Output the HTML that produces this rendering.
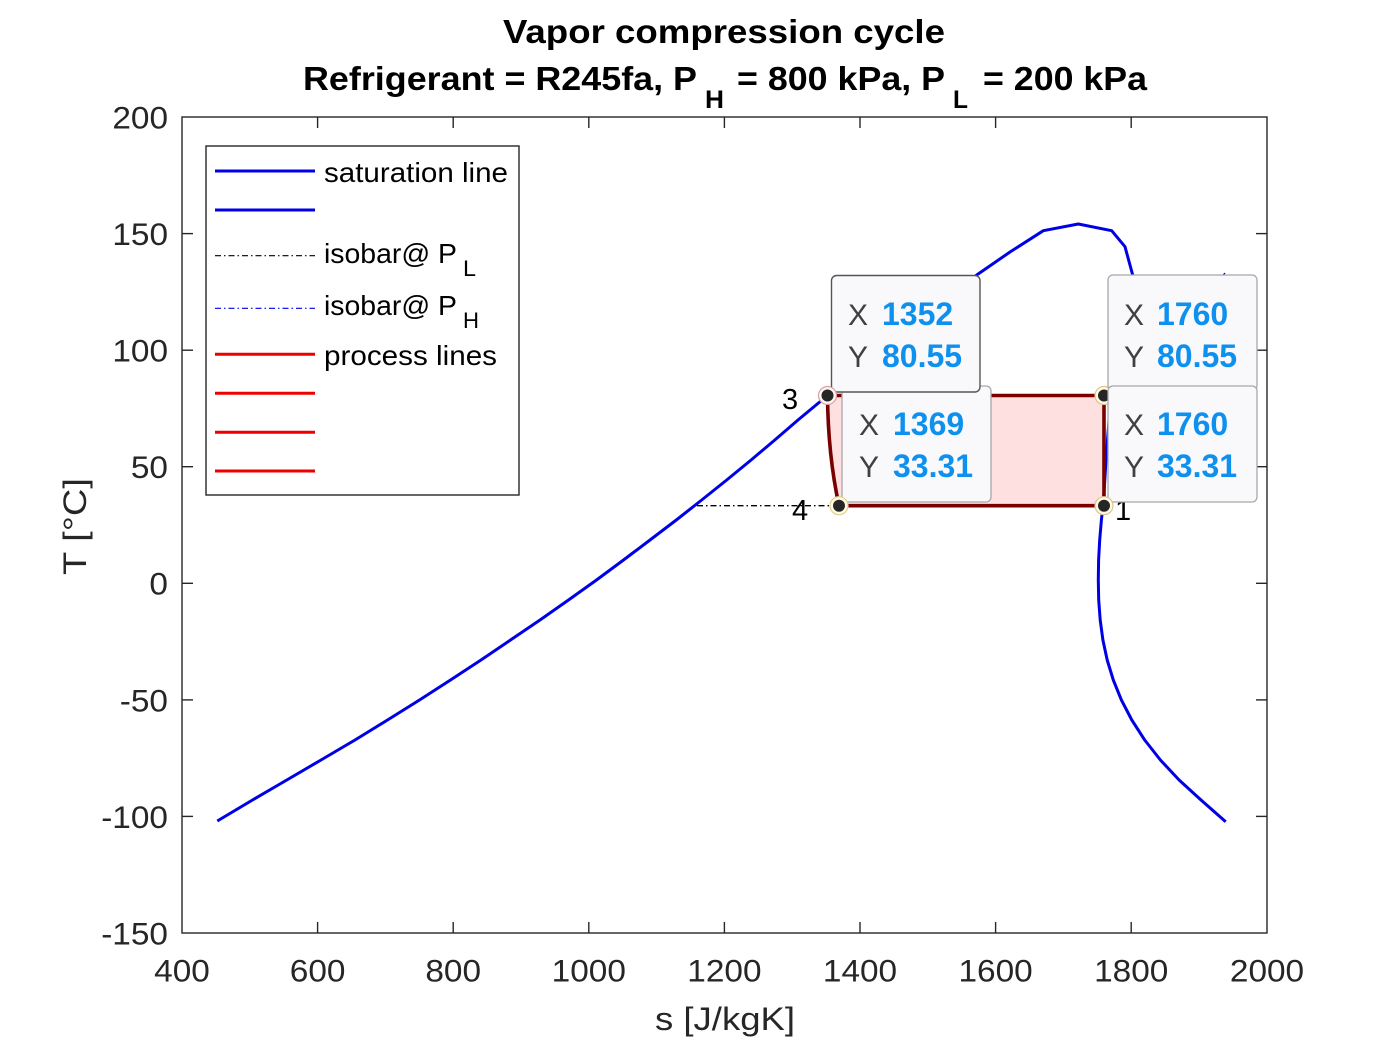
<!DOCTYPE html>
<html>
<head>
<meta charset="utf-8">
<style>
  html,body{margin:0;padding:0;background:#fff;}
  svg{display:block;}
  text{font-family:"Liberation Sans",Arial,sans-serif;}
</style>
</head>
<body>
<svg width="1400" height="1050" viewBox="0 0 1400 1050" xmlns="http://www.w3.org/2000/svg">
  <rect x="0" y="0" width="1400" height="1050" fill="#ffffff"/>

  <!-- Title -->
  <text x="503" y="43" font-size="33" font-weight="bold" fill="#000" textLength="442" lengthAdjust="spacingAndGlyphs">Vapor compression cycle</text>
  <text x="303" y="90" font-size="33" font-weight="bold" fill="#000" textLength="394" lengthAdjust="spacingAndGlyphs">Refrigerant = R245fa, P</text>
  <text x="705" y="108" font-size="25" font-weight="bold" fill="#000" textLength="19" lengthAdjust="spacingAndGlyphs">H</text>
  <text x="737" y="90" font-size="33" font-weight="bold" fill="#000" textLength="208" lengthAdjust="spacingAndGlyphs">= 800 kPa, P</text>
  <text x="953" y="108" font-size="25" font-weight="bold" fill="#000" textLength="15" lengthAdjust="spacingAndGlyphs">L</text>
  <text x="983" y="90" font-size="33" font-weight="bold" fill="#000" textLength="164" lengthAdjust="spacingAndGlyphs">= 200 kPa</text>

  <!-- Axes box -->
  <rect x="182" y="117" width="1085" height="816" fill="#fff" stroke="#262626" stroke-width="1.4"/>

  <!-- ticks -->
  <g stroke="#262626" stroke-width="1.4">
    <line x1="317.6" y1="933" x2="317.6" y2="922"/><line x1="317.6" y1="117" x2="317.6" y2="128"/>
    <line x1="453.2" y1="933" x2="453.2" y2="922"/><line x1="453.2" y1="117" x2="453.2" y2="128"/>
    <line x1="588.8" y1="933" x2="588.8" y2="922"/><line x1="588.8" y1="117" x2="588.8" y2="128"/>
    <line x1="724.4" y1="933" x2="724.4" y2="922"/><line x1="724.4" y1="117" x2="724.4" y2="128"/>
    <line x1="860" y1="933" x2="860" y2="922"/><line x1="860" y1="117" x2="860" y2="128"/>
    <line x1="995.6" y1="933" x2="995.6" y2="922"/><line x1="995.6" y1="117" x2="995.6" y2="128"/>
    <line x1="1131.2" y1="933" x2="1131.2" y2="922"/><line x1="1131.2" y1="117" x2="1131.2" y2="128"/>
    <line x1="182" y1="233.6" x2="193" y2="233.6"/><line x1="1267" y1="233.6" x2="1256" y2="233.6"/>
    <line x1="182" y1="350.2" x2="193" y2="350.2"/><line x1="1267" y1="350.2" x2="1256" y2="350.2"/>
    <line x1="182" y1="466.7" x2="193" y2="466.7"/><line x1="1267" y1="466.7" x2="1256" y2="466.7"/>
    <line x1="182" y1="583.3" x2="193" y2="583.3"/><line x1="1267" y1="583.3" x2="1256" y2="583.3"/>
    <line x1="182" y1="699.9" x2="193" y2="699.9"/><line x1="1267" y1="699.9" x2="1256" y2="699.9"/>
    <line x1="182" y1="816.4" x2="193" y2="816.4"/><line x1="1267" y1="816.4" x2="1256" y2="816.4"/>
  </g>

  <!-- y tick labels -->
  <g font-size="31.5" fill="#262626" text-anchor="end">
    <text transform="translate(168,128.5) scale(1.06,1)">200</text>
    <text transform="translate(168,245) scale(1.06,1)">150</text>
    <text transform="translate(168,361.6) scale(1.06,1)">100</text>
    <text transform="translate(168,478.1) scale(1.06,1)">50</text>
    <text transform="translate(168,594.7) scale(1.06,1)">0</text>
    <text transform="translate(168,711.3) scale(1.06,1)">-50</text>
    <text transform="translate(168,827.8) scale(1.06,1)">-100</text>
    <text transform="translate(168,944.4) scale(1.06,1)">-150</text>
  </g>
  <!-- x tick labels -->
  <g font-size="31.5" fill="#262626" text-anchor="middle">
    <text transform="translate(182,981.5) scale(1.06,1)">400</text>
    <text transform="translate(317.6,981.5) scale(1.06,1)">600</text>
    <text transform="translate(453.2,981.5) scale(1.06,1)">800</text>
    <text transform="translate(588.8,981.5) scale(1.06,1)">1000</text>
    <text transform="translate(724.4,981.5) scale(1.06,1)">1200</text>
    <text transform="translate(860,981.5) scale(1.06,1)">1400</text>
    <text transform="translate(995.6,981.5) scale(1.06,1)">1600</text>
    <text transform="translate(1131.2,981.5) scale(1.06,1)">1800</text>
    <text transform="translate(1267,981.5) scale(1.06,1)">2000</text>
  </g>

  <!-- axis labels -->
  <text x="655" y="1030" font-size="32" fill="#262626" textLength="140" lengthAdjust="spacingAndGlyphs">s [J/kgK]</text>
  <text transform="translate(86,575) rotate(-90)" font-size="32" fill="#262626" textLength="97" lengthAdjust="spacingAndGlyphs">T [°C]</text>

  <!-- cycle fill -->
  <path d="M827.5,395.5 Q828,455 839,505.7 L1104,505.7 L1104,395.5 Z" fill="#ffe0e1" stroke="none"/>

  <!-- isobar PH superheated (mostly hidden) -->
  <path d="M1110,395.5 L1226,272" fill="none" stroke="#0000e6" stroke-width="1.3" stroke-dasharray="6 3 1.5 3"/>

  <!-- saturation line -->
  <path d="M217.3,821 L252.5,800 L286.8,780 L321,760 L355,740 L387.5,720 L419.5,700 L450.5,680 L481,660 L510.5,640 L540,620 L568.5,600 L596.5,580 L623.5,560 L650,540 L676.3,520 L701.7,500 L726.7,480 L751.1,460 L774.8,440 L798,420 L827.5,395.5 L900,335 L976.7,275 L1010,252 L1043.3,230.7 L1078.3,224 L1111.7,230.7 L1125,246.7 L1132.7,275 L1128,320 L1116,370 L1109,420 L1106,460 L1104.5,485 L1103,505.7 L1101.4,520 L1099.7,540 L1098.6,560 L1098.3,580 L1098.7,600 L1100.2,620 L1102.9,640 L1107.2,660 L1113.3,680 L1121.4,700 L1131.8,720 L1144.7,740 L1160.4,760 L1179.1,780 L1201,800 L1225.7,821.7"
        fill="none" stroke="#0000e6" stroke-width="3" stroke-linejoin="round" stroke-linecap="butt"/>

  <!-- isobar PL -->
  <line x1="697" y1="505.7" x2="839" y2="505.7" stroke="#000" stroke-width="1.3" stroke-dasharray="6 3 1.5 3"/>

  <!-- process lines -->
  <path d="M827.5,395.5 Q828,455 839,505.7 L1104,505.7 L1104,395.5 Z" fill="none" stroke="#7a0000" stroke-width="3.6" stroke-linejoin="round"/>

  <!-- point labels -->
  <g font-size="29" fill="#000">
    <text x="782" y="409">3</text>
    <text x="792" y="520">4</text>
    <text x="1115" y="520">1</text>
    <text x="1114" y="409">2</text>
  </g>

  <!-- marker 2 (under tips) -->
  <circle cx="1104" cy="395.5" r="9" fill="#fffbe3" stroke="#e0c290" stroke-width="1.2"/>
  <circle cx="1104" cy="395.5" r="6" fill="#262626"/>

  <!-- Data tips -->
  <g>
    <rect x="842" y="386" width="149" height="116" rx="5" ry="5" fill="#f9f9fc" stroke="#a8a8a8" stroke-width="1.3"/>
    <text x="859" y="435" font-size="30" fill="#404040">X</text>
    <text x="893" y="435" font-size="32" font-weight="bold" fill="#0e90ee">1369</text>
    <text x="859" y="477" font-size="30" fill="#404040">Y</text>
    <text x="893" y="477" font-size="32" font-weight="bold" fill="#0e90ee">33.31</text>

    <rect x="831.5" y="275.5" width="148.5" height="116.5" rx="5" ry="5" fill="#f9f9fc" stroke="#555555" stroke-width="1.4"/>
    <text x="848" y="325" font-size="30" fill="#404040">X</text>
    <text x="882" y="325" font-size="32" font-weight="bold" fill="#0e90ee">1352</text>
    <text x="848" y="367" font-size="30" fill="#404040">Y</text>
    <text x="882" y="367" font-size="32" font-weight="bold" fill="#0e90ee">80.55</text>

    <rect x="1108" y="275" width="149" height="116" rx="5" ry="5" fill="#f9f9fc" stroke="#a8a8a8" stroke-width="1.3"/>
    <text x="1124" y="325" font-size="30" fill="#404040">X</text>
    <text x="1157" y="325" font-size="32" font-weight="bold" fill="#0e90ee">1760</text>
    <text x="1124" y="367" font-size="30" fill="#404040">Y</text>
    <text x="1157" y="367" font-size="32" font-weight="bold" fill="#0e90ee">80.55</text>

    <rect x="1108" y="386" width="149" height="116" rx="5" ry="5" fill="#f9f9fc" stroke="#a8a8a8" stroke-width="1.3"/>
    <text x="1124" y="435" font-size="30" fill="#404040">X</text>
    <text x="1157" y="435" font-size="32" font-weight="bold" fill="#0e90ee">1760</text>
    <text x="1124" y="477" font-size="30" fill="#404040">Y</text>
    <text x="1157" y="477" font-size="32" font-weight="bold" fill="#0e90ee">33.31</text>
  </g>

  <!-- markers on top -->
  <circle cx="827.5" cy="395.5" r="9" fill="#fff6f0" stroke="#d8a0a0" stroke-width="1.2"/>
  <circle cx="827.5" cy="395.5" r="6" fill="#262626"/>
  <circle cx="839" cy="505.7" r="9" fill="#fffbe3" stroke="#e0d090" stroke-width="1.2"/>
  <circle cx="839" cy="505.7" r="6" fill="#262626"/>
  <circle cx="1104" cy="505.7" r="9" fill="#fffbe3" stroke="#e0c290" stroke-width="1.2"/>
  <circle cx="1104" cy="505.7" r="6" fill="#262626"/>

  <!-- Legend -->
  <rect x="206" y="146" width="313" height="349" fill="#fff" stroke="#262626" stroke-width="1.4"/>
  <g stroke-width="3">
    <line x1="215" y1="171" x2="315" y2="171" stroke="#0000e6"/>
    <line x1="215" y1="210" x2="315" y2="210" stroke="#0000e6"/>
    <line x1="215" y1="255.7" x2="315" y2="255.7" stroke="#000" stroke-width="1.2" stroke-dasharray="6 3 1.5 3"/>
    <line x1="215" y1="308.3" x2="315" y2="308.3" stroke="#0000e6" stroke-width="1.2" stroke-dasharray="6 3 1.5 3"/>
    <line x1="215" y1="354.3" x2="315" y2="354.3" stroke="#ee0000"/>
    <line x1="215" y1="393.3" x2="315" y2="393.3" stroke="#ee0000"/>
    <line x1="215" y1="432.3" x2="315" y2="432.3" stroke="#ee0000"/>
    <line x1="215" y1="471" x2="315" y2="471" stroke="#ee0000"/>
  </g>
  <g font-size="28" fill="#000">
    <text x="324" y="182" textLength="184" lengthAdjust="spacingAndGlyphs">saturation line</text>
    <text x="324" y="263" textLength="133" lengthAdjust="spacingAndGlyphs">isobar@ P</text>
    <text x="463" y="276" font-size="22" textLength="13" lengthAdjust="spacingAndGlyphs">L</text>
    <text x="324" y="315" textLength="133" lengthAdjust="spacingAndGlyphs">isobar@ P</text>
    <text x="463" y="328" font-size="22" textLength="16" lengthAdjust="spacingAndGlyphs">H</text>
    <text x="324" y="365" textLength="173" lengthAdjust="spacingAndGlyphs">process lines</text>
  </g>
</svg>
</body>
</html>
